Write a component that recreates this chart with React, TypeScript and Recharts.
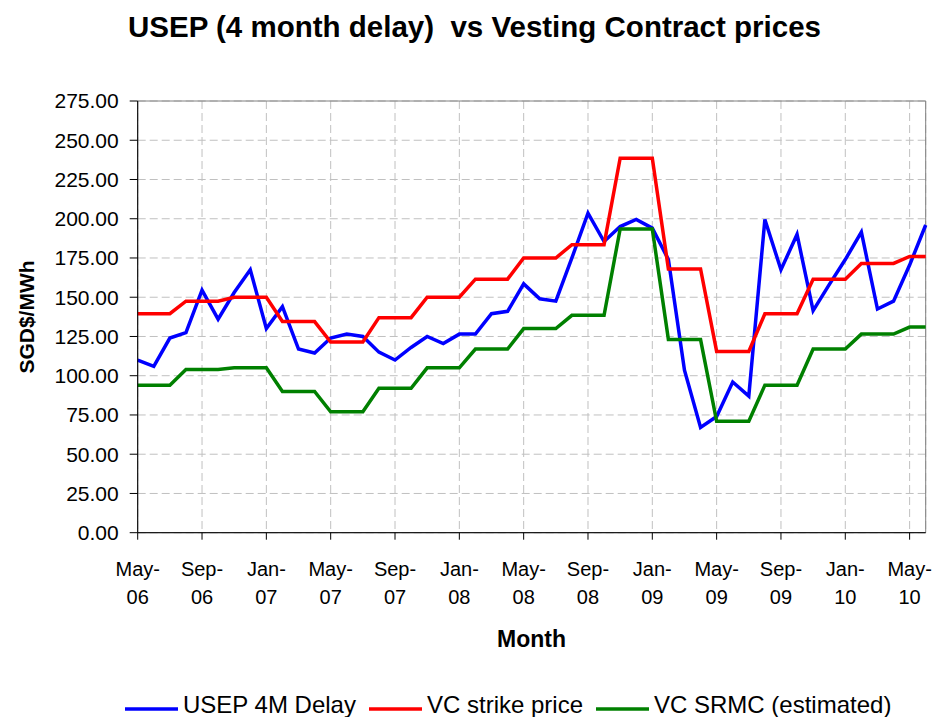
import React from "react";
import {
  LineChart,
  Line,
  XAxis,
  YAxis,
  CartesianGrid,
  ReferenceArea,
  Legend,
} from "recharts";

const months = [
  "May-06", "Jun-06", "Jul-06", "Aug-06", "Sep-06", "Oct-06", "Nov-06", "Dec-06",
  "Jan-07", "Feb-07", "Mar-07", "Apr-07", "May-07", "Jun-07", "Jul-07", "Aug-07",
  "Sep-07", "Oct-07", "Nov-07", "Dec-07", "Jan-08", "Feb-08", "Mar-08", "Apr-08",
  "May-08", "Jun-08", "Jul-08", "Aug-08", "Sep-08", "Oct-08", "Nov-08", "Dec-08",
  "Jan-09", "Feb-09", "Mar-09", "Apr-09", "May-09", "Jun-09", "Jul-09", "Aug-09",
  "Sep-09", "Oct-09", "Nov-09", "Dec-09", "Jan-10", "Feb-10", "Mar-10", "Apr-10",
  "May-10", "Jun-10",
];

const tickMonths = [
  "May-06", "Sep-06", "Jan-07", "May-07", "Sep-07", "Jan-08", "May-08",
  "Sep-08", "Jan-09", "May-09", "Sep-09", "Jan-10", "May-10",
];

const yTicks = [0, 25, 50, 75, 100, 125, 150, 175, 200, 225, 250, 275];

const seriesNames = ["USEP 4M Delay", "VC strike price", "VC SRMC (estimated)"];

// USEP 4M Delay
const usep = [
  110, 106, 124, 127.5, 154.5, 136, 153, 167.5, 130, 144,
  117, 114.5, 124, 126.5, 125, 115, 110, 118, 125, 120.5,
  126.5, 126.5, 139.5, 141, 158.5, 149, 147.5, 175, 203.5, 185.5,
  195, 199.5, 194, 174, 103.5, 67, 74, 96, 87, 199.5,
  167.5, 190, 141.5, 158, 174, 191.5, 142.5, 147.5, 170.5, 196,
];

// VC strike price
const strike = [
  139.5, 139.5, 139.5, 147.5, 147.5, 147.5, 150, 150, 150, 134.5,
  134.5, 134.5, 121.5, 121.5, 121.5, 137, 137, 137, 150, 150,
  150, 161.5, 161.5, 161.5, 175, 175, 175, 183.5, 183.5, 183.5,
  238.5, 238.5, 238.5, 168, 168, 168, 115.5, 115.5, 115.5, 139.5,
  139.5, 139.5, 161.5, 161.5, 161.5, 171.5, 171.5, 171.5, 176, 176,
];

// VC SRMC (estimated)
const srmc = [
  94, 94, 94, 104, 104, 104, 105, 105, 105, 90,
  90, 90, 77, 77, 77, 92, 92, 92, 105, 105,
  105, 117, 117, 117, 130, 130, 130, 138.5, 138.5, 138.5,
  193.5, 193.5, 193.5, 123, 123, 123, 71, 71, 71, 94,
  94, 94, 117, 117, 117, 126.5, 126.5, 126.5, 131, 131,
];

const data = months.map((m, i) => ({
  i,
  month: m,
  usep: usep[i],
  strike: strike[i],
  srmc: srmc[i],
}));

const FONT = '"Liberation Sans", Arial, sans-serif';
const NARROW = '"Liberation Sans Narrow", "Arial Narrow", "Liberation Sans", sans-serif';

const MonthTick = (props: any) => {
  const { x, y, payload } = props;
  const label = months[payload.value] || "";
  const [mon, yr] = label.split("-");
  return (
    <g transform={`translate(${x},${y})`}>
      <text textAnchor="middle" fontSize={20} fill="#000" fontFamily={FONT}>
        <tspan x={0} dy={34}>{mon + "-"}</tspan>
        <tspan x={0} dy={28.6}>{yr}</tspan>
      </text>
    </g>
  );
};

const LegendContent = (props: any) => {
  const items = [...(props.payload || [])].sort(
    (a: any, b: any) => seriesNames.indexOf(a.value) - seriesNames.indexOf(b.value)
  );
  return (
    <div style={{ display: "flex", fontFamily: FONT, fontSize: 24, lineHeight: "28px" }}>
      {items.map((it: any, k: number) => (
        <div key={k} style={{ display: "flex", marginRight: 13 }}>
          <svg width={53} height={4} style={{ marginTop: 16, marginRight: 5 }}>
            <line x1={0} y1={2} x2={53} y2={2} stroke={it.color} strokeWidth={3.5} />
          </svg>
          <span style={{ color: "#000", whiteSpace: "nowrap" }}>{it.value}</span>
        </div>
      ))}
    </div>
  );
};

export default function App() {
  return (
    <div
      style={{
        position: "absolute",
        left: 0,
        top: 0,
        width: 935,
        height: 717,
        background: "#fff",
        fontFamily: FONT,
      }}
    >
      <div
        style={{
          position: "absolute",
          left: 474.5,
          top: 11.5,
          transform: "translateX(-50%)",
          fontSize: 29.5,
          fontWeight: "bold",
          lineHeight: 1,
          whiteSpace: "pre",
          color: "#000",
        }}
      >
        {"USEP (4 month delay)  vs Vesting Contract prices"}
      </div>

      <div
        style={{
          position: "absolute",
          left: 26,
          top: 317,
          transform: "translate(-50%, -50%) rotate(-90deg)",
          fontSize: 21,
          fontWeight: "bold",
          lineHeight: 1,
          whiteSpace: "nowrap",
          color: "#000",
        }}
      >
        SGD$/MWh
      </div>

      <div
        style={{
          position: "absolute",
          left: 531.5,
          top: 627.6,
          transform: "translateX(-50%)",
          fontSize: 23,
          fontWeight: "bold",
          lineHeight: 1,
          color: "#000",
        }}
      >
        Month
      </div>

      <LineChart
        width={935}
        height={717}
        data={data}
        margin={{ top: 101, right: 9.3, left: 57.7, bottom: 154.3 }}
      >
        <CartesianGrid stroke="#c0c0c0" strokeDasharray="8 4" />
        <XAxis
          dataKey="i"
          type="number"
          domain={[0, 49]}
          ticks={tickMonths.map((m) => months.indexOf(m))}
          interval={0}
          tick={<MonthTick />}
          tickSize={7}
          height={30}
          axisLine={{ stroke: "#000" }}
          tickLine={{ stroke: "#000" }}
        />
        <YAxis
          domain={[0, 275]}
          ticks={yTicks}
          interval={0}
          width={80}
          tickSize={8}
          tickMargin={11}
          tickFormatter={(v: number) => v.toFixed(2)}
          tick={{ fontSize: 21, fill: "#000", fontFamily: NARROW }}
          axisLine={{ stroke: "#000" }}
          tickLine={{ stroke: "#000" }}
        />
        <ReferenceArea
          x1={0}
          x2={49}
          y1={0}
          y2={275}
          fill="none"
          stroke="#808080"
          strokeWidth={1}
          ifOverflow="visible"
        />
        <Line
          type="linear"
          dataKey="usep"
          name={seriesNames[0]}
          stroke="#0000ff"
          strokeWidth={3.5}
          dot={false}
          isAnimationActive={false}
        />
        <Line
          type="linear"
          dataKey="strike"
          name={seriesNames[1]}
          stroke="#ff0000"
          strokeWidth={3.5}
          dot={false}
          isAnimationActive={false}
        />
        <Line
          type="linear"
          dataKey="srmc"
          name={seriesNames[2]}
          stroke="#008000"
          strokeWidth={3.5}
          dot={false}
          isAnimationActive={false}
        />
        <Legend
          layout="horizontal"
          verticalAlign="middle"
          align="center"
          content={<LegendContent />}
          wrapperStyle={{ top: 691.4, left: 125, width: 800, height: 28 }}
        />
      </LineChart>
    </div>
  );
}
